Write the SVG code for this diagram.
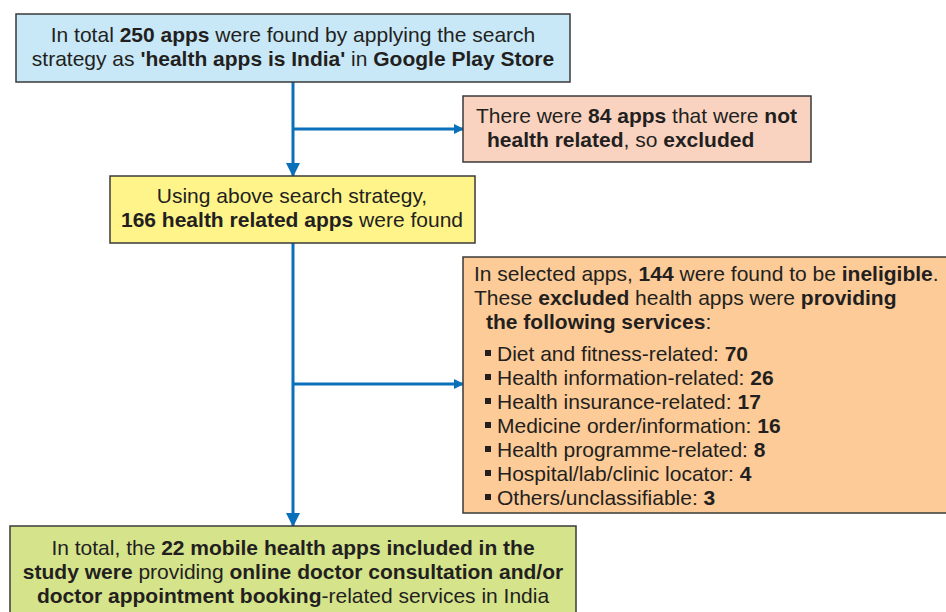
<svg xmlns="http://www.w3.org/2000/svg" width="946" height="612" viewBox="0 0 946 612">
<defs>
<marker id="ah" markerWidth="10" markerHeight="10" refX="9" refY="5" orient="auto" markerUnits="userSpaceOnUse">
<path d="M0,0 L10,5 L0,10 z" fill="#0a70ba"/>
</marker>
<marker id="ahd" markerWidth="14" markerHeight="14" refX="13" refY="7" orient="auto" markerUnits="userSpaceOnUse">
<path d="M0,0 L14,7 L0,14 z" fill="#0a70ba"/>
</marker>
<style>
.box{stroke:#3a3a3a;stroke-width:1.5}
.t{font-family:"Liberation Sans",Arial,sans-serif;font-size:21px;fill:#231f20}
.c{text-anchor:middle}
.b{font-weight:bold}
.ln{stroke:#0a70ba;stroke-width:3;fill:none}
.sq{fill:#231f20}
</style>
</defs>
<rect width="946" height="612" fill="#ffffff"/>
<g id="connectors">
<line class="ln" x1="293" y1="82" x2="293" y2="176" marker-end="url(#ahd)"/>
<line class="ln" x1="293" y1="129" x2="463" y2="129" marker-end="url(#ah)"/>
<line class="ln" x1="293" y1="243" x2="293" y2="526" marker-end="url(#ahd)"/>
<line class="ln" x1="293" y1="384" x2="463" y2="384" marker-end="url(#ah)"/>
</g>
<g id="n1">
<rect class="box" x="16" y="14" width="554" height="68" fill="#c8e8f7"/>
<text class="t c" x="293" y="42">In total <tspan class="b">250 apps</tspan> were found by applying the search</text>
<text class="t c" x="293" y="66">strategy as <tspan class="b">'health apps is India'</tspan> in <tspan class="b">Google Play Store</tspan></text>
</g>
<g id="n2">
<rect class="box" x="463" y="96" width="348" height="66" fill="#f9d3c0"/>
<text class="t" x="476" y="123">There were <tspan class="b">84 apps</tspan> that were <tspan class="b">not</tspan></text>
<text class="t" x="487" y="147"><tspan class="b">health related</tspan>, so <tspan class="b">excluded</tspan></text>
</g>
<g id="n3">
<rect class="box" x="110" y="176" width="365" height="67" fill="#fff48a"/>
<text class="t c" x="292" y="203">Using above search strategy,</text>
<text class="t c" x="292" y="227"><tspan class="b">166 health related apps</tspan> were found</text>
</g>
<g id="n4">
<rect class="box" x="463" y="257" width="490" height="256" fill="#fccb97"/>
<text class="t" x="474" y="281">In selected apps, <tspan class="b">144</tspan> were found to be <tspan class="b">ineligible</tspan>.</text>
<text class="t" x="474" y="305">These <tspan class="b">excluded</tspan> health apps were <tspan class="b">providing</tspan></text>
<text class="t" x="486" y="329"><tspan class="b">the following services</tspan>:</text>
<rect class="sq" x="485" y="350" width="6" height="6"/>
<rect class="sq" x="485" y="374" width="6" height="6"/>
<rect class="sq" x="485" y="398" width="6" height="6"/>
<rect class="sq" x="485" y="422" width="6" height="6"/>
<rect class="sq" x="485" y="446" width="6" height="6"/>
<rect class="sq" x="485" y="470" width="6" height="6"/>
<rect class="sq" x="485" y="494" width="6" height="6"/>
<text class="t" x="497" y="361">Diet and fitness-related: <tspan class="b">70</tspan></text>
<text class="t" x="497" y="385">Health information-related: <tspan class="b">26</tspan></text>
<text class="t" x="497" y="409">Health insurance-related: <tspan class="b">17</tspan></text>
<text class="t" x="497" y="433">Medicine order/information: <tspan class="b">16</tspan></text>
<text class="t" x="497" y="457">Health programme-related: <tspan class="b">8</tspan></text>
<text class="t" x="497" y="481">Hospital/lab/clinic locator: <tspan class="b">4</tspan></text>
<text class="t" x="497" y="505">Others/unclassifiable: <tspan class="b">3</tspan></text>
</g>
<g id="n5">
<rect class="box" x="10" y="526" width="566" height="90" fill="#d5e38b"/>
<text class="t c" x="293" y="555">In total, the <tspan class="b">22 mobile health apps included in the</tspan></text>
<text class="t c" x="293" y="579"><tspan class="b">study were</tspan> providing <tspan class="b">online doctor consultation and/or</tspan></text>
<text class="t c" x="293" y="603"><tspan class="b">doctor appointment booking</tspan>-related services in India</text>
</g>
</svg>
